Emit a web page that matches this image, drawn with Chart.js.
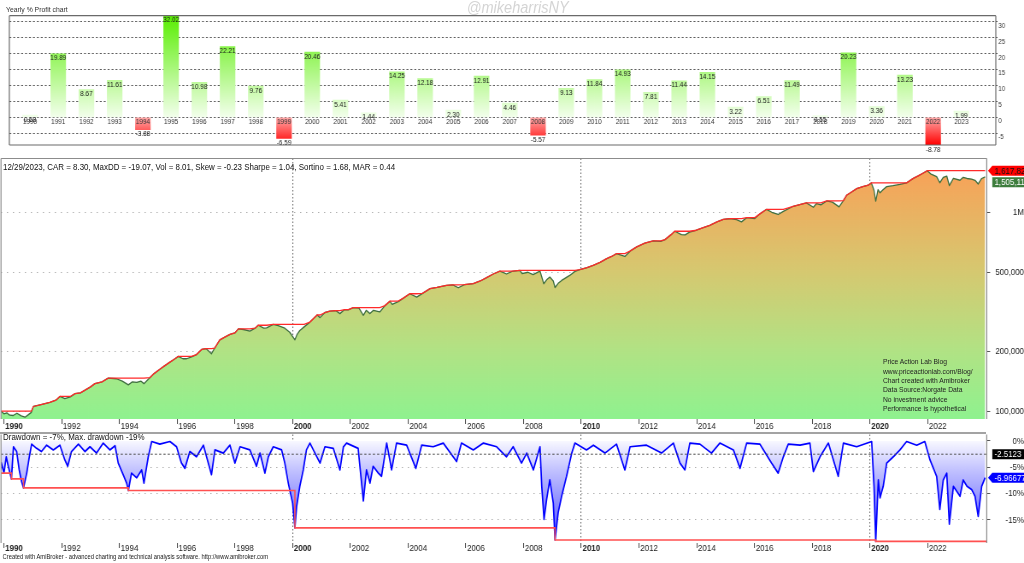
<!DOCTYPE html>
<html>
<head>
<meta charset="utf-8">
<title>Yearly % Profit chart</title>
<script src="https://cdn.jsdelivr.net/npm/chart.js@4.4.1/dist/chart.umd.min.js"></script>
<style>
  html, body { margin: 0; padding: 0; background: #fff; overflow: hidden; }
  body { width: 1024px; height: 563px; position: relative; }
  /* the reference is horizontally squeezed, so lay out at 1198px and squeeze */
  #wrap { position: absolute; left: 0; top: 0; width: 1198px; height: 563px;
          transform: scaleX(0.85476); transform-origin: 0 0;
          font-family: "Liberation Sans", Arial, sans-serif; }
  canvas { position: absolute; left: 0; }
  .txt { position: absolute; white-space: nowrap; color: #111; }
</style>
</head>
<body>
<div id="wrap">
  <canvas id="profitChart" width="1198" height="155" style="top:0;width:1198px;height:155px"></canvas>
  <canvas id="equityChart" width="1198" height="278" style="top:155px;width:1198px;height:278px"></canvas>
  <canvas id="ddChart" width="1198" height="122" style="top:433px;width:1198px;height:122px"></canvas>
  <div style="position:absolute;left:0;top:432px;width:1154px;height:2px;background:#a3a3a3"></div>

  <div class="txt" style="left:7px;top:4.9px;font-size:8px;line-height:10px;color:#333">Yearly % Profit chart</div>
  <div class="txt" style="left:546px;top:-2px;font-size:17px;line-height:20px;font-style:italic;color:#d4d4d4">@mikeharrisNY</div>
  <div class="txt" style="left:3.5px;top:161.7px;font-size:9.3px;line-height:11px">12/29/2023, CAR = 8.30, MaxDD = -19.07, Vol = 8.01, Skew = -0.23 Sharpe = 1.04, Sortino = 1.68, MAR = 0.44</div>
  <div class="txt" style="left:1033px;top:357.3px;font-size:7.9px;line-height:9.33px;color:#222">Price Action Lab Blog<br>www.priceactionlab.com/Blog/<br>Chart created with Amibroker<br>Data Source:Norgate Data<br>No investment advice<br>Performance is hypothetical</div>
  <div class="txt" style="left:3.5px;top:432.3px;font-size:9.3px;line-height:11px">Drawdown = -7%, Max. drawdown -19%</div>
  <div class="txt" style="left:3px;top:553.4px;font-size:6.8px;line-height:8px;color:#222">Created with AmiBroker - advanced charting and technical analysis software. http://www.amibroker.com</div>
</div>

<script>
// ---------- data ----------
const years = [1990, 1991, 1992, 1993, 1994, 1995, 1996, 1997, 1998, 1999, 2000, 2001,
  2002, 2003, 2004, 2005, 2006, 2007, 2008, 2009, 2010, 2011, 2012, 2013, 2014, 2015,
  2016, 2017, 2018, 2019, 2020, 2021, 2022, 2023];
const yearlyProfit = [0.68, 19.89, 8.67, 11.61, -3.88, 32.02, 10.98, 22.21, 9.76, -6.59, 20.46, 5.41,
  1.44, 14.25, 12.18, 2.30, 12.91, 4.46, -5.57, 9.13, 11.84, 14.93, 7.81, 11.44, 14.15, 3.22,
  6.51, 11.49, 0.55, 20.23, 3.36, 13.23, -8.78, 1.99];
const profitTicks = [30, 25, 20, 15, 10, 5, 0, -5];

const xTickYears = [1990, 1992, 1994, 1996, 1998, 2000, 2002, 2004, 2006, 2008, 2010, 2012,
  2014, 2016, 2018, 2020, 2022];

const equityTicks = [100000, 200000, 500000, 1000000];
const equityTickLabels = ['100,000', '200,000', '500,000', '1M'];

const equityDates = [1989.90, 1990.00, 1990.10, 1990.20, 1990.32, 1990.45, 1990.60, 1990.73, 1990.85, 1990.95,
  1991.02, 1991.25, 1991.59, 1991.80, 1991.94, 1992.11, 1992.30, 1992.46, 1992.65, 1992.81,
  1993.00, 1993.15, 1993.40, 1993.61, 1993.90, 1994.10, 1994.31, 1994.45, 1994.60, 1994.75,
  1994.85, 1995.06, 1995.20, 1995.40, 1995.55, 1995.75, 1995.90, 1996.04, 1996.20, 1996.33,
  1996.50, 1996.67, 1996.85, 1997.00, 1997.19, 1997.30, 1997.48, 1997.65, 1997.83, 1998.00,
  1998.12, 1998.30, 1998.52, 1998.70, 1998.81, 1999.00, 1999.10, 1999.33, 1999.50, 1999.73,
  1999.90, 2000.08, 2000.15, 2000.25, 2000.40, 2000.60, 2000.85, 2000.95, 2001.12, 2001.29,
  2001.50, 2001.64, 2001.80, 2001.93, 2002.10, 2002.30, 2002.45, 2002.55, 2002.68, 2002.80,
  2003.02, 2003.20, 2003.37, 2003.45, 2003.66, 2003.85, 2004.06, 2004.30, 2004.50, 2004.76,
  2005.00, 2005.33, 2005.55, 2005.74, 2005.95, 2006.26, 2006.50, 2006.72, 2006.95, 2007.18,
  2007.41, 2007.60, 2007.87, 2007.95, 2008.15, 2008.33, 2008.57, 2008.70, 2008.80, 2008.91,
  2009.03, 2009.09, 2009.20, 2009.32, 2009.60, 2009.78, 2009.95, 2010.20, 2010.41, 2010.65,
  2010.88, 2011.05, 2011.22, 2011.51, 2011.70, 2011.92, 2012.20, 2012.49, 2012.75, 2012.90,
  2013.10, 2013.24, 2013.47, 2013.60, 2013.75, 2013.94, 2014.20, 2014.45, 2014.70, 2014.92,
  2015.15, 2015.38, 2015.55, 2015.73, 2016.01, 2016.20, 2016.42, 2016.60, 2016.82, 2017.00,
  2017.34, 2017.60, 2017.80, 2018.04, 2018.15, 2018.30, 2018.50, 2018.70, 2018.93, 2019.08,
  2019.19, 2019.35, 2019.54, 2019.75, 2019.94, 2020.05, 2020.14, 2020.20, 2020.28, 2020.35,
  2020.46, 2020.58, 2020.80, 2021.04, 2021.27, 2021.50, 2021.67, 2021.85, 2021.99, 2022.10,
  2022.31, 2022.42, 2022.54, 2022.66, 2022.75, 2022.89, 2023.12, 2023.23, 2023.36, 2023.52,
  2023.64, 2023.75, 2023.87, 2023.99];
const equityValues = [100500, 97300, 98500, 95800, 95500, 98000, 95000, 93600, 96500, 99000,
  106000, 108000, 111000, 114000, 119000, 116000, 118500, 123000, 124000, 128000,
  133000, 138000, 141000, 147000, 146000, 142000, 136000, 141000, 140000, 142000,
  138000, 148000, 155000, 163000, 169000, 177000, 183000, 189000, 184000, 184000,
  188000, 193000, 205000, 207000, 195000, 208000, 229000, 236000, 244000, 248000,
  260000, 258000, 253000, 262000, 271000, 262000, 263000, 274000, 270000, 262000,
  250000, 229000, 243000, 255000, 266000, 281000, 305000, 296000, 314000, 319000,
  321000, 310000, 325000, 324000, 332000, 330000, 304000, 322000, 310000, 322000,
  316000, 340000, 358000, 345000, 356000, 372000, 390000, 375000, 392000, 414000,
  420000, 430000, 432000, 418000, 433000, 438000, 452000, 470000, 490000, 506000,
  490000, 505000, 511000, 492000, 500000, 486000, 507000, 438000, 458000, 473000,
  452000, 419000, 440000, 455000, 482000, 505000, 515000, 528000, 542000, 560000,
  585000, 600000, 620000, 600000, 640000, 670000, 700000, 718000, 715000, 729000,
  770000, 803000, 773000, 770000, 795000, 810000, 835000, 860000, 895000, 922000,
  930000, 919000, 895000, 940000, 930000, 985000, 1035000, 1000000, 975000, 1010000,
  1072000, 1095000, 1114000, 1060000, 1106000, 1090000, 1140000, 1125000, 1065000, 1145000,
  1217000, 1260000, 1315000, 1345000, 1367000, 1404000, 1290000, 1137000, 1300000, 1253000,
  1300000, 1345000, 1360000, 1380000, 1405000, 1480000, 1522000, 1575000, 1617820, 1560000,
  1510000, 1407000, 1498000, 1520000, 1362000, 1478000, 1448000, 1498000, 1478000, 1468000,
  1448000, 1387000, 1478000, 1505110];

const ddDates = [1989.90, 1990.00, 1990.08, 1990.15, 1990.26, 1990.33, 1990.44, 1990.53, 1990.61, 1990.68,
  1990.79, 1990.88, 1990.96, 1991.13, 1991.30, 1991.48, 1991.71, 1991.94, 1992.11, 1992.21,
  1992.34, 1992.58, 1992.81, 1992.98, 1993.21, 1993.44, 1993.67, 1993.85, 1993.96, 1994.13,
  1994.25, 1994.31, 1994.42, 1994.60, 1994.77, 1994.85, 1995.00, 1995.12, 1995.40, 1995.75,
  1995.98, 1996.15, 1996.27, 1996.44, 1996.67, 1996.91, 1997.19, 1997.31, 1997.60, 1997.83,
  1998.00, 1998.18, 1998.52, 1998.75, 1998.87, 1999.04, 1999.16, 1999.33, 1999.62, 1999.73,
  1999.85, 2000.00, 2000.08, 2000.14, 2000.25, 2000.37, 2000.48, 2000.60, 2000.95, 2001.12,
  2001.41, 2001.64, 2001.76, 2001.87, 2002.27, 2002.45, 2002.56, 2002.68, 2002.79, 2002.97,
  2003.08, 2003.26, 2003.43, 2003.60, 2003.95, 2004.27, 2004.47, 2004.87, 2005.22, 2005.68,
  2005.85, 2006.26, 2006.61, 2007.07, 2007.41, 2007.64, 2007.93, 2008.11, 2008.34, 2008.57,
  2008.63, 2008.71, 2008.80, 2008.91, 2009.03, 2009.09, 2009.20, 2009.32, 2009.49, 2009.67,
  2009.78, 2010.18, 2010.42, 2010.82, 2011.22, 2011.51, 2011.69, 2012.26, 2012.78, 2013.19,
  2013.42, 2013.59, 2013.76, 2014.11, 2014.51, 2014.80, 2015.27, 2015.50, 2015.73, 2016.19,
  2016.59, 2016.82, 2017.00, 2017.17, 2017.58, 2017.92, 2018.04, 2018.27, 2018.56, 2018.90,
  2019.08, 2019.54, 2020.06, 2020.14, 2020.20, 2020.29, 2020.35, 2020.46, 2020.58, 2020.81,
  2021.04, 2021.27, 2021.62, 2021.90, 2022.08, 2022.31, 2022.42, 2022.54, 2022.66, 2022.75,
  2022.89, 2023.12, 2023.23, 2023.36, 2023.52, 2023.64, 2023.75, 2023.87, 2023.99];
const ddValues = [-4.0, -6.1, -3.0, -4.8, -7.2, -1.1, -2.0, -5.5, -7.7, -8.9,
  -6.1, -3.0, -0.6, -1.4, -2.0, -0.8, -1.7, -0.8, -3.6, -4.8,
  -2.0, -0.6, -2.0, -1.1, -2.3, -0.4, -1.7, -0.9, -4.2, -6.4,
  -8.0, -9.4, -6.1, -7.0, -5.5, -8.0, -3.0, -0.1, -0.6, -0.1,
  -1.1, -4.2, -5.2, -2.0, -3.0, -0.8, -6.4, -1.7, -2.3, -0.8,
  -4.2, -1.1, -1.7, -4.8, -2.3, -6.1, -3.0, -1.1, -1.7, -4.2,
  -8.0, -11.8, -16.5, -12.4, -8.6, -5.5, -1.7, -0.4, -4.2, -1.1,
  -1.4, -5.5, -1.1, -0.4, -1.4, -11.4, -5.5, -8.0, -4.8, -6.1,
  -6.7, -0.4, -5.5, -0.4, -0.8, -5.2, -0.8, -1.1, -0.4, -3.9,
  -0.4, -1.7, -0.4, -1.1, -3.0, -1.1, -4.2, -2.3, -5.5, -1.1,
  -8.6, -14.9, -11.1, -7.4, -11.8, -18.8, -13.6, -10.5, -6.7, -2.3,
  -0.4, -1.7, -0.8, -2.3, -0.6, -5.5, -1.1, -0.8, -2.3, -0.4,
  -4.2, -5.5, -0.4, -0.6, -2.3, -0.4, -1.7, -5.2, -0.4, -0.6,
  -4.2, -6.1, -3.0, -0.6, -0.8, -0.4, -5.8, -3.0, -0.4, -6.7,
  -0.4, -1.1, -0.1, -8.6, -19.07, -7.4, -10.8, -8.6, -4.2, -3.0,
  -1.7, -0.1, -0.8, -0.1, -3.6, -6.7, -13.0, -7.4, -6.1, -15.8,
  -8.6, -10.5, -7.4, -8.6, -9.2, -10.5, -14.3, -8.6, -6.96677];

const maxDDDates = [1989.90, 1990.26, 1990.68, 1994.31, 2000.08, 2009.09, 2020.20, 2024.05];
const maxDDValues = [-6.1, -7.2, -8.9, -9.4, -16.5, -18.8, -19.07, -19.07];
const avgDrawdown = -2.5123;
const ddTicks = [0, -5, -10, -15];
const ddTickLabels = ['0%', '-5%', '-10%', '-15%'];

// ---------- helpers ----------
const FONT = '"Liberation Sans", Arial, sans-serif';
Chart.defaults.font.family = FONT;

function setTicks(values) {
  return s => { s.ticks = values.map(v => ({ value: v })); };
}
function fitY(width) {
  return s => { s.width = width; s.paddingTop = 0; s.paddingBottom = 0; };
}
function fitX(height) {
  return s => { s.height = height; s.paddingLeft = 0; s.paddingRight = 0; };
}

// frame lines round the plot area
function frame(color, sides) {
  return {
    id: 'frame',
    afterDraw(chart) {
      const { ctx, chartArea: a } = chart;
      ctx.save();
      ctx.strokeStyle = color;
      ctx.lineWidth = 1.2;
      ctx.beginPath();
      if (sides.includes('t')) { ctx.moveTo(a.left, a.top); ctx.lineTo(a.right, a.top); }
      if (sides.includes('b')) { ctx.moveTo(a.left, a.bottom); ctx.lineTo(a.right, a.bottom); }
      if (sides.includes('l')) { ctx.moveTo(a.left, a.top); ctx.lineTo(a.left, a.bottom); }
      if (sides.includes('r')) { ctx.moveTo(a.right, a.top); ctx.lineTo(a.right, a.bottom); }
      ctx.stroke();
      ctx.restore();
    }
  };
}

// coloured value tags on the right edge
function valueTags(getTags) {
  return {
    id: 'valueTags',
    afterDraw(chart) {
      const { ctx, chartArea } = chart;
      const y = chart.scales.y;
      const h = 10;
      let prevBottom = -Infinity;
      ctx.save();
      ctx.font = '9.3px ' + FONT;
      ctx.textBaseline = 'middle';
      getTags().forEach(t => {
        const cy = Math.max(y.getPixelForValue(t.value), prevBottom + h / 2 + 1.5);
        const tip = chartArea.right + 1.5;
        const x1 = chart.width;
        ctx.fillStyle = t.bg;
        ctx.beginPath();
        if (t.arrow) {
          ctx.moveTo(tip, cy);
          ctx.lineTo(tip + 5, cy - h / 2);
          ctx.lineTo(x1, cy - h / 2);
          ctx.lineTo(x1, cy + h / 2);
          ctx.lineTo(tip + 5, cy + h / 2);
          ctx.closePath();
        } else {
          ctx.rect(tip + 5, cy - h / 2, x1 - tip - 5, h);
        }
        ctx.fill();
        ctx.fillStyle = t.fg;
        ctx.fillText(t.text, tip + 7.5, cy + 0.5);
        prevBottom = cy + h / 2;
      });
      ctx.restore();
    }
  };
}

const xAxisBase = (height, pad) => ({
  type: 'linear',
  min: 1989.9,
  max: 2024.046,
  afterBuildTicks: setTicks(xTickYears),
  afterFit: fitX(height),
  grid: {
    color: c => (c.tick && c.tick.value % 10 === 0 && c.tick.value !== 1990) ? '#707070' : 'rgba(0,0,0,0)',
    lineWidth: 1.1,
    tickColor: '#444',
    tickLength: 5,
    tickWidth: 1
  },
  border: { display: false, dash: [1.5, 2] },
  ticks: {
    autoSkip: false,
    maxRotation: 0,
    align: 'start',
    padding: pad,
    labelOffset: 1.5,
    color: '#222',
    font: c => ({ family: FONT, size: 9.3, weight: (c.tick && c.tick.value % 10 === 0) ? 'bold' : 'normal' }),
    callback: v => String(v)
  }
});

// ---------- 1. yearly % profit bars ----------
function barFill(c) {
  const chart = c.chart;
  if (!chart.chartArea) return '#9f6';
  const y = chart.scales.y, ctx = chart.ctx;
  const zero = y.getPixelForValue(0);
  const v = yearlyProfit[c.dataIndex];
  if (v >= 0) {
    const g = ctx.createLinearGradient(0, zero, 0, y.getPixelForValue(32));
    g.addColorStop(0, '#f3ffec');
    g.addColorStop(1, '#58ee00');
    return g;
  }
  const g = ctx.createLinearGradient(0, zero, 0, y.getPixelForValue(-8.7));
  g.addColorStop(0, '#ffaaaa');
  g.addColorStop(1, '#ff0000');
  return g;
}

const barLabels = {
  id: 'barLabels',
  afterDatasetsDraw(chart) {
    const { ctx } = chart;
    const meta = chart.getDatasetMeta(0);
    const zero = chart.scales.y.getPixelForValue(0);
    ctx.save();
    ctx.font = '7.5px ' + FONT;
    ctx.textAlign = 'center';
    ctx.textBaseline = 'middle';
    meta.data.forEach((bar, i) => {
      const v = yearlyProfit[i];
      ctx.fillStyle = '#333';
      ctx.fillText(String(years[i]), bar.x, zero + 4.4);
      ctx.fillStyle = '#1a1a1a';
      ctx.fillText(v.toFixed(2), bar.x, bar.y + 4.5);
    });
    ctx.restore();
  }
};

new Chart(document.getElementById('profitChart'), {
  type: 'bar',
  data: {
    datasets: [{
      data: years.map((yr, i) => ({ x: yr, y: yearlyProfit[i] })),
      backgroundColor: barFill,
      borderWidth: 0,
      barThickness: 17.5
    }]
  },
  options: {
    responsive: false,
    animation: false,
    devicePixelRatio: 1,
    events: [],
    layout: { padding: { left: 10.9, top: 15.7, right: 0, bottom: 10 } },
    plugins: { legend: { display: false }, tooltip: { enabled: false } },
    scales: {
      x: { type: 'linear', min: 1989.267, max: 2024.22, display: false, offset: false },
      y: {
        position: 'right',
        min: -8.69,
        max: 31.88,
        afterBuildTicks: setTicks(profitTicks),
        afterFit: fitY(33),
        grid: { color: '#4d4d4d', lineWidth: 0.9, tickLength: 2, tickColor: '#4d4d4d' },
        border: { display: false, dash: [2.3, 2.3] },
        ticks: { color: '#333', padding: 1, labelOffset: 4, font: { size: 7, family: FONT }, callback: v => String(v) }
      }
    }
  },
  plugins: [barLabels, frame('#6a6a6a', 'tblr')]
});

// ---------- 2. equity curve ----------
function equityFill(c) {
  const chart = c.chart, a = chart.chartArea;
  if (!a) return '#bde';
  const g = chart.ctx.createLinearGradient(0, a.top, 0, a.bottom);
  g.addColorStop(0, '#f9a04e');
  g.addColorStop(0.08, '#f5a55a');
  g.addColorStop(0.43, '#d6c870');
  g.addColorStop(0.73, '#b2e284');
  g.addColorStop(1, '#8ff28f');
  return g;
}
const equityPeak = equityValues.map((v, i) => Math.max(...equityValues.slice(0, i + 1)));

new Chart(document.getElementById('equityChart'), {
  type: 'line',
  data: {
    datasets: [{
      data: equityDates.map((d, i) => ({ x: d, y: equityPeak[i] })),
      borderColor: '#ff2a2a',
      borderWidth: 1.3,
      pointRadius: 0,
      fill: false,
      order: 0
    }, {
      data: equityDates.map((d, i) => ({ x: d, y: equityValues[i] })),
      borderColor: '#3f6f3f',
      borderWidth: 1.3,
      borderJoinStyle: 'round',
      pointRadius: 0,
      fill: 'start',
      backgroundColor: equityFill,
      order: 1
    }]
  },
  options: {
    responsive: false,
    animation: false,
    devicePixelRatio: 1,
    events: [],
    layout: { padding: { left: 1.2, top: 3.5, right: 0, bottom: 0 } },
    plugins: { legend: { display: false }, tooltip: { enabled: false } },
    scales: {
      x: xAxisBase(14, -3.5),
      y: {
        type: 'logarithmic',
        position: 'right',
        min: 91700,
        max: 1862000,
        afterBuildTicks: setTicks(equityTicks),
        afterFit: fitY(43.6),
        grid: { color: '#9c9c9c', lineWidth: 1, tickLength: 4, tickColor: '#555' },
        border: { display: false, dash: [1.2, 5.8] },
        ticks: {
          crossAlign: 'far',
          padding: 2.7,
          color: '#222',
          font: { size: 9.3, family: FONT },
          callback: v => equityTickLabels[equityTicks.indexOf(v)] || ''
        }
      }
    }
  },
  plugins: [frame('#8c8c8c', 'tlr'), valueTags(() => [
    { value: Math.max(...equityValues), text: Math.max(...equityValues).toLocaleString('en-US'), bg: '#ff0000', fg: '#111', arrow: true },
    { value: equityValues[equityValues.length - 1], text: equityValues[equityValues.length - 1].toLocaleString('en-US'), bg: '#3d7d3d', fg: '#fff', arrow: false }
  ])]
});

// ---------- 3. drawdown ----------
function ddFill(c) {
  const chart = c.chart;
  if (!chart.chartArea) return '#ccf';
  const y = chart.scales.y;
  const g = chart.ctx.createLinearGradient(0, y.getPixelForValue(0), 0, y.getPixelForValue(-19));
  g.addColorStop(0, '#f8f8ff');
  g.addColorStop(0.3, '#c0c0ff');
  g.addColorStop(0.65, '#8888ff');
  g.addColorStop(1, '#5050ff');
  return g;
}

const avgLine = {
  id: 'avgLine',
  afterDatasetsDraw(chart) {
    const { ctx, chartArea: a } = chart;
    const py = chart.scales.y.getPixelForValue(avgDrawdown);
    ctx.save();
    ctx.strokeStyle = '#4a4a4a';
    ctx.lineWidth = 1;
    ctx.setLineDash([2.5, 2.5]);
    ctx.beginPath();
    ctx.moveTo(a.left, py);
    ctx.lineTo(a.right, py);
    ctx.stroke();
    ctx.restore();
  }
};

new Chart(document.getElementById('ddChart'), {
  type: 'line',
  data: {
    datasets: [{
      data: maxDDDates.map((d, i) => ({ x: d, y: maxDDValues[i] })),
      borderColor: '#ff5050',
      borderWidth: 1.6,
      pointRadius: 0,
      stepped: true,
      fill: false,
      order: 0
    }, {
      data: ddDates.map((d, i) => ({ x: d, y: ddValues[i] })),
      borderColor: '#0000ff',
      borderWidth: 1.7,
      borderJoinStyle: 'round',
      pointRadius: 0,
      fill: { value: 0 },
      backgroundColor: ddFill,
      order: 1
    }]
  },
  options: {
    responsive: false,
    animation: false,
    devicePixelRatio: 1,
    events: [],
    layout: { padding: { left: 1.2, top: 1.5, right: 0, bottom: 0 } },
    plugins: { legend: { display: false }, tooltip: { enabled: false } },
    scales: {
      x: xAxisBase(12, -5),
      y: {
        position: 'right',
        min: -19.37,
        max: 1.23,
        afterBuildTicks: setTicks(ddTicks),
        afterFit: fitY(43.6),
        grid: {
          color: c => (c.tick && c.tick.value === 0) ? 'rgba(0,0,0,0)' : '#9c9c9c',
          lineWidth: 1,
          tickLength: 4,
          tickColor: '#555'
        },
        border: { display: false, dash: [1.2, 5.8] },
        ticks: {
          crossAlign: 'far',
          padding: 11,
          color: '#222',
          font: { size: 9.3, family: FONT },
          callback: v => ddTickLabels[ddTicks.indexOf(v)] || ''
        }
      }
    }
  },
  plugins: [avgLine, frame('#8c8c8c', 'lr'), valueTags(() => [
    { value: avgDrawdown, text: String(avgDrawdown), bg: '#000', fg: '#fff', arrow: false },
    { value: ddValues[ddValues.length - 1], text: String(ddValues[ddValues.length - 1]), bg: '#0000ff', fg: '#fff', arrow: true }
  ])]
});
</script>
</body>
</html>
